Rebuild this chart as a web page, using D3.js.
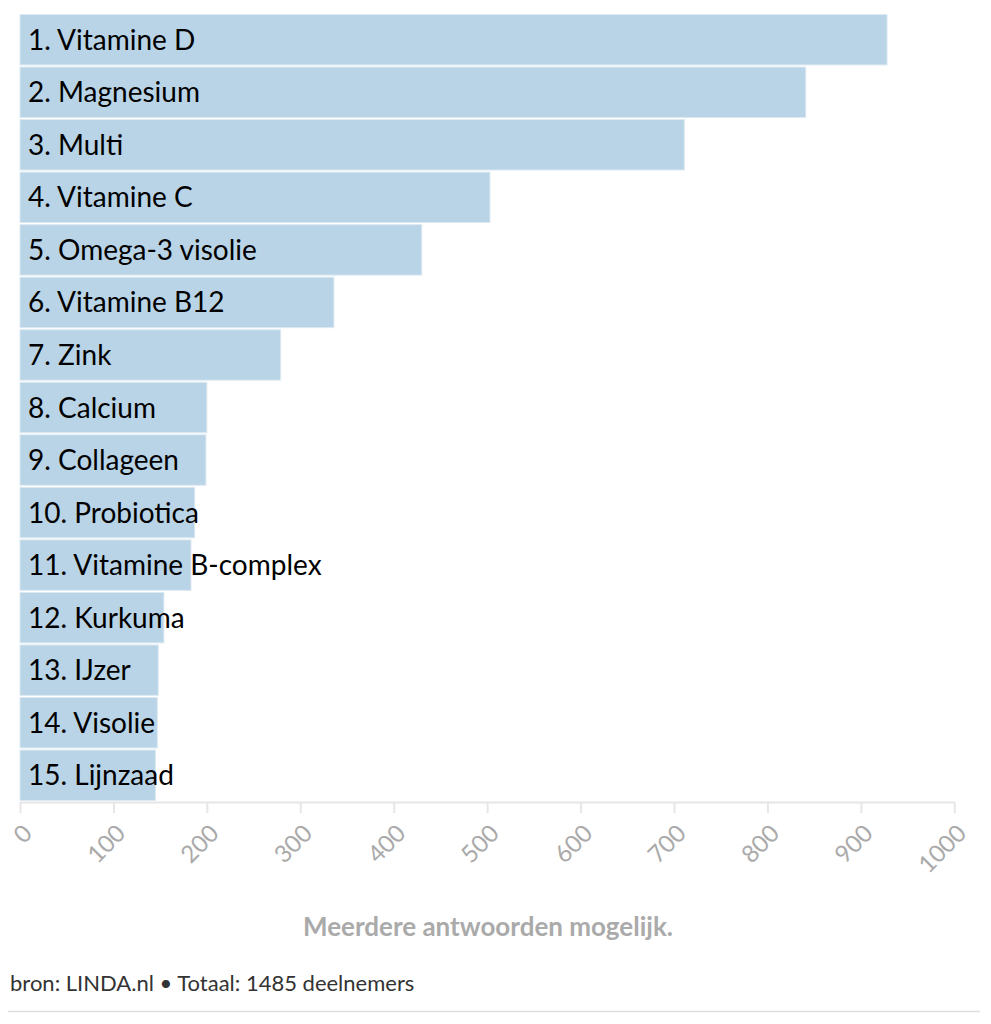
<!DOCTYPE html>
<html>
<head>
<meta charset="utf-8">
<script src="https://cdn.jsdelivr.net/npm/d3@7/dist/d3.min.js"></script>
<style>
  html, body { margin: 0; padding: 0; background: #fff; }
  svg { display: block; }
</style>
</head>
<body>
<svg id="chart" width="991" height="1024"></svg>
<script>
const categories = ["1. Vitamine D","2. Magnesium","3. Multi","4. Vitamine C","5. Omega-3 visolie","6. Vitamine B12","7. Zink","8. Calcium","9. Collageen","10. Probiotica","11. Vitamine B-complex","12. Kurkuma","13. IJzer","14. Visolie","15. Lijnzaad"];
const values = [928, 841, 711, 503, 430, 336, 279, 200, 199, 187, 183, 154, 148, 147, 145];
const tickValues = [0, 100, 200, 300, 400, 500, 600, 700, 800, 900, 1000];
const axisTitle = "Meerdere antwoorden mogelijk.";
const sourceText = "bron: LINDA.nl • Totaal: 1485 deelnemers";

const svg = d3.select("#chart");
const font = "'Source Sans Pro', Lato, 'Noto Sans', sans-serif";

const x = d3.scaleLinear().domain([0, 1000]).range([20, 954.3]);
const y = d3.scaleBand().domain(categories).range([14, 801]).paddingInner(0.04).paddingOuter(0.01);

svg.append("g").selectAll("rect").data(values).join("rect")
  .attr("x", x(0))
  .attr("y", (d, i) => y(categories[i]))
  .attr("width", d => x(d) - x(0))
  .attr("height", y.bandwidth())
  .attr("fill", "#b9d4e6")
  .attr("stroke", "#dce9f2")
  .attr("stroke-width", 1);

svg.append("g").selectAll("text").data(categories).join("text")
  .attr("x", 28)
  .attr("y", d => y(d) + y.bandwidth() / 2 + 10)
  .attr("font-family", font)
  .attr("font-size", 28)
  .attr("fill", "#000")
  .text(d => d);

const axis = d3.axisBottom(x).tickValues(tickValues).tickSize(11).tickSizeOuter(0).tickFormat(d3.format("d"));
const gx = svg.append("g").attr("transform", "translate(0,802)").call(axis);
gx.select(".domain").attr("stroke", "#e6e6e6").attr("stroke-width", 2);
gx.selectAll(".tick line").attr("stroke", "#e6e6e6").attr("stroke-width", 2);
gx.selectAll(".tick text")
  .attr("font-family", font)
  .attr("font-size", 24)
  .attr("fill", "#aaaaaa")
  .attr("text-anchor", "end")
  .attr("dy", null)
  .attr("y", 0)
  .attr("transform", "translate(13,33) rotate(-45)");

svg.append("text")
  .attr("x", 488).attr("y", 936)
  .attr("text-anchor", "middle")
  .attr("font-family", font)
  .attr("font-weight", "bold")
  .attr("font-size", 26)
  .attr("fill", "#aaaaaa")
  .text(axisTitle);

svg.append("text")
  .attr("x", 10).attr("y", 991)
  .attr("font-family", font)
  .attr("font-size", 22)
  .attr("fill", "#333")
  .text(sourceText);

svg.append("line")
  .attr("x1", 8).attr("x2", 980)
  .attr("y1", 1011.5).attr("y2", 1011.5)
  .attr("stroke", "#dddddd").attr("stroke-width", 1.5);
</script>
</body>
</html>
